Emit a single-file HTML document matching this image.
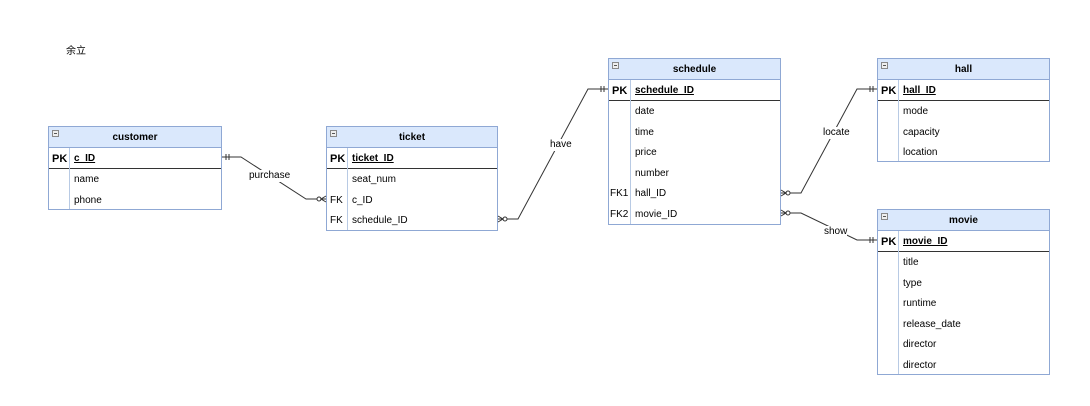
<!DOCTYPE html>
<html><head><meta charset="utf-8"><style>
body{margin:0;width:1090px;height:406px;background:#fff;position:relative;overflow:hidden;font-family:"Liberation Sans",Arial,sans-serif;font-size:10px;color:#000}
.b{position:absolute;border:1px solid #8fa8d4;background:#fff;box-sizing:border-box}
.h{position:absolute;left:0;right:0;top:0;height:21px;background:#dae8fc;border-bottom:1px solid #8fa8d4;box-sizing:border-box;text-align:center;font-weight:bold;line-height:22px}
.h i{position:absolute;left:3px;top:3px;width:5px;height:5px;border:1px solid #888;background:#eee}
.h i:after{content:"";position:absolute;left:1px;top:2px;width:3px;height:1px;background:#555}
.pk{position:absolute;left:0;right:0;top:21px;height:21px;border-bottom:1px solid #333;box-sizing:border-box}
.v{position:absolute;top:21px;bottom:0;width:1px;background:#b8cae4}
.t{position:absolute;line-height:22px;white-space:nowrap}
.k{font-weight:bold;font-size:11px}
.u{font-weight:bold;text-decoration:underline}
.lbl{position:absolute;background:#fff;line-height:12px;white-space:nowrap}
</style></head><body>
<div class="t" style="left:66px;top:41px;font-family:'Liberation Sans','Noto Sans CJK SC',sans-serif">余立</div>

<div class="b" style="left:48px;top:126px;width:174px;height:84px">
<div class="h"><i></i>customer</div><div class="pk"></div><div class="v" style="left:20px"></div>
<div class="t k" style="left:3px;top:21px">PK</div><div class="t u" style="left:25px;top:21px">c_ID</div>
<div class="t" style="left:25px;top:42px">name</div><div class="t" style="left:25px;top:63px">phone</div>
</div>

<div class="b" style="left:326px;top:126px;width:172px;height:105px">
<div class="h"><i></i>ticket</div><div class="pk"></div><div class="v" style="left:20px"></div>
<div class="t k" style="left:3px;top:21px">PK</div><div class="t u" style="left:25px;top:21px">ticket_ID</div>
<div class="t" style="left:25px;top:42px">seat_num</div>
<div class="t" style="left:3px;top:63px">FK</div><div class="t" style="left:25px;top:63px">c_ID</div>
<div class="t" style="left:3px;top:83px">FK</div><div class="t" style="left:25px;top:83px">schedule_ID</div>
</div>

<div class="b" style="left:608px;top:58px;width:173px;height:167px">
<div class="h"><i></i>schedule</div><div class="pk"></div><div class="v" style="left:21px"></div>
<div class="t k" style="left:3px;top:21px">PK</div><div class="t u" style="left:26px;top:21px">schedule_ID</div>
<div class="t" style="left:26px;top:42px">date</div>
<div class="t" style="left:26px;top:63px">time</div>
<div class="t" style="left:26px;top:83px">price</div>
<div class="t" style="left:26px;top:104px">number</div>
<div class="t" style="left:1px;top:124px">FK1</div><div class="t" style="left:26px;top:124px">hall_ID</div>
<div class="t" style="left:1px;top:145px">FK2</div><div class="t" style="left:26px;top:145px">movie_ID</div>
</div>

<div class="b" style="left:877px;top:58px;width:173px;height:104px">
<div class="h"><i></i>hall</div><div class="pk"></div><div class="v" style="left:20px"></div>
<div class="t k" style="left:3px;top:21px">PK</div><div class="t u" style="left:25px;top:21px">hall_ID</div>
<div class="t" style="left:25px;top:42px">mode</div>
<div class="t" style="left:25px;top:63px">capacity</div>
<div class="t" style="left:25px;top:83px">location</div>
</div>

<div class="b" style="left:877px;top:209px;width:173px;height:166px">
<div class="h"><i></i>movie</div><div class="pk"></div><div class="v" style="left:20px"></div>
<div class="t k" style="left:3px;top:21px">PK</div><div class="t u" style="left:25px;top:21px">movie_ID</div>
<div class="t" style="left:25px;top:42px">title</div>
<div class="t" style="left:25px;top:63px">type</div>
<div class="t" style="left:25px;top:83px">runtime</div>
<div class="t" style="left:25px;top:104px">release_date</div>
<div class="t" style="left:25px;top:124px">director</div>
<div class="t" style="left:25px;top:145px">director</div>
</div>

<svg style="position:absolute;left:0;top:0" width="1090" height="406" fill="none" stroke="#333" stroke-width="1">
<polyline points="222,157 241,157 306,199 326,199"/>
<path d="M226,154v6M229,154v6"/>
<circle cx="319" cy="199" r="2" fill="#fff"/>
<path d="M326,196L321,199L326,202"/>
<polyline points="498,219 518,219 588,89 608,89"/>
<path d="M601,86v6M604,86v6"/>
<circle cx="505" cy="219" r="2" fill="#fff"/>
<path d="M498,216L503,219L498,222"/>
<polyline points="781,193 801,193 857,89 877,89"/>
<path d="M870,86v6M873,86v6"/>
<circle cx="788" cy="193" r="2" fill="#fff"/>
<path d="M781,190L786,193L781,196"/>
<polyline points="781,213 801,213 857,240 877,240"/>
<path d="M870,237v6M873,237v6"/>
<circle cx="788" cy="213" r="2" fill="#fff"/>
<path d="M781,210L786,213L781,216"/>
</svg>
<div class="lbl" style="left:249px;top:170px">purchase</div>
<div class="lbl" style="left:550px;top:139px">have</div>
<div class="lbl" style="left:823px;top:127px">locate</div>
<div class="lbl" style="left:824px;top:226px">show</div>
</body></html>
